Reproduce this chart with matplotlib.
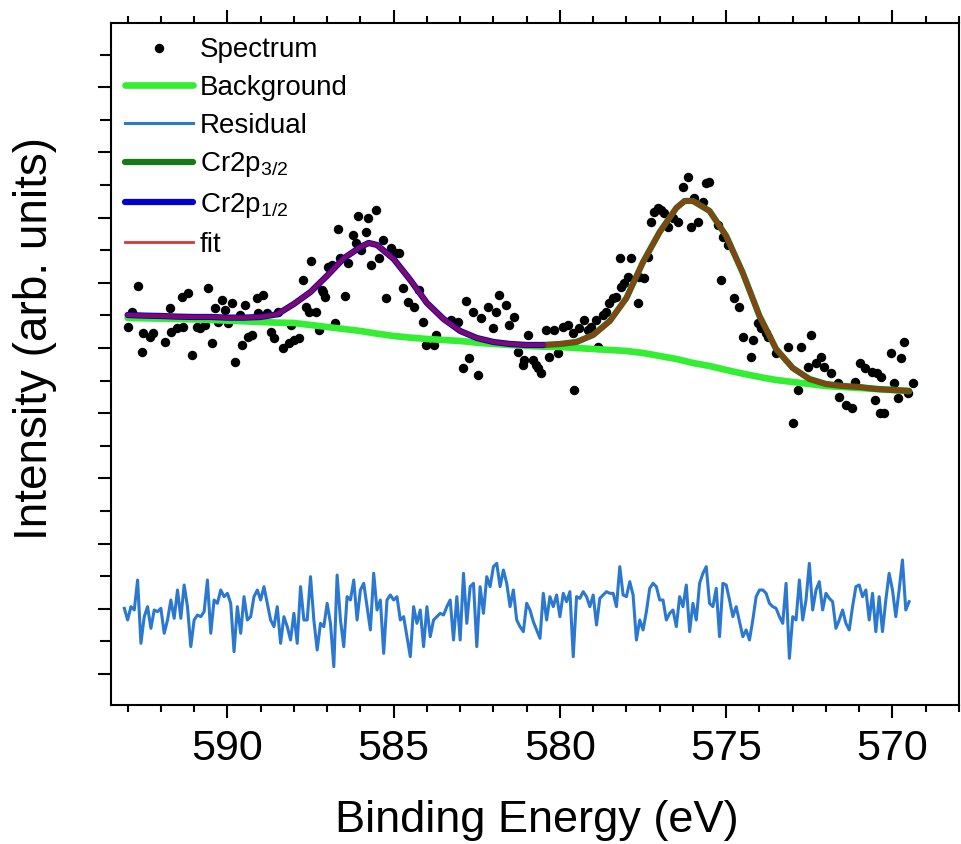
import numpy as np
import matplotlib
matplotlib.use("Agg")
import matplotlib.pyplot as plt
from matplotlib.ticker import MultipleLocator

plt.rcParams['font.family'] = ['Liberation Sans', 'DejaVu Sans']
plt.rcParams['mathtext.fontset'] = 'custom'
plt.rcParams['mathtext.rm'] = 'Liberation Sans'
plt.rcParams['mathtext.default'] = 'regular'

# measured points (binding energy in eV, intensity in arb. units)
spectrum_energy = [
    592.98, 592.86, 592.68, 592.56, 592.53, 592.32, 592.23, 591.87, 591.72, 591.70,
    591.51, 591.36, 591.33, 591.17, 591.05, 590.90, 590.81, 590.66, 590.57, 590.45,
    590.36, 590.27, 590.15, 590.06, 589.97, 589.85, 589.76, 589.61, 589.55, 589.46,
    589.37, 589.25, 589.10, 589.07, 588.92, 588.80, 588.70, 588.61, 588.49, 588.34,
    588.16, 588.10, 588.01, 587.86, 587.74, 587.65, 587.56, 587.50, 587.35, 587.26,
    587.14, 587.11, 587.05, 586.96, 586.84, 586.75, 586.66, 586.60, 586.45, 586.36,
    586.23, 586.14, 586.08, 585.99, 585.84, 585.78, 585.69, 585.54, 585.45, 585.33,
    585.24, 585.09, 584.94, 584.85, 584.73, 584.58, 584.40, 584.25, 584.13, 584.04,
    583.80, 583.73, 583.28, 583.07, 582.92, 582.83, 582.74, 582.62, 582.47, 582.38,
    582.17, 582.02, 581.93, 581.84, 581.63, 581.54, 581.39, 581.27, 581.11, 581.08,
    580.96, 580.81, 580.72, 580.66, 580.57, 580.42, 580.33, 580.18, 580.06, 579.91,
    579.76, 579.61, 579.58, 579.43, 579.28, 579.16, 579.07, 578.92, 578.86, 578.70,
    578.61, 578.52, 578.40, 578.31, 578.19, 578.16, 578.07, 577.95, 577.86, 577.65,
    577.62, 577.47, 577.35, 577.26, 577.17, 577.05, 576.96, 576.87, 576.75, 576.60,
    576.45, 576.30, 576.14, 576.05, 575.96, 575.84, 575.69, 575.60, 575.51, 575.24,
    575.15, 575.09, 574.94, 574.76, 574.61, 574.49, 574.25, 574.19, 574.04, 573.95,
    573.80, 573.73, 573.49, 573.13, 572.98, 572.83, 572.74, 572.53, 572.44, 572.29,
    572.14, 572.05, 571.84, 571.63, 571.60, 571.39, 571.23, 571.14, 570.99, 570.84,
    570.63, 570.54, 570.48, 570.39, 570.33, 570.24, 570.03, 569.94, 569.82, 569.73,
    569.64, 569.52, 569.37,
]
spectrum_counts = [
    1134, 1179, 1257, 1059, 1116, 1104, 1116, 1089, 1191, 1119,
    1131, 1224, 1134, 1236, 1050, 1134, 1131, 1140, 1251, 1086,
    1191, 1149, 1215, 1185, 1146, 1206, 1029, 1170, 1080, 1200,
    1104, 1110, 1221, 1176, 1230, 1176, 1119, 1101, 1179, 1071,
    1086, 1140, 1095, 1101, 1275, 1194, 1179, 1332, 1179, 1125,
    1245, 1239, 1224, 1314, 1320, 1146, 1428, 1341, 1227, 1326,
    1410, 1386, 1467, 1365, 1419, 1461, 1320, 1485, 1341, 1395,
    1221, 1371, 1356, 1356, 1251, 1209, 1194, 1245, 1149, 1080,
    1080, 1110, 1155, 1149, 1011, 1212, 1041, 1179, 990, 1161,
    1194, 1131, 1179, 1230, 1200, 1140, 1164, 1059, 1020, 1035,
    1110, 1035, 1020, 1011, 996, 1125, 1044, 1125, 1056, 1134,
    1140, 1116, 945, 1131, 1155, 1125, 1134, 1155, 1074, 1170,
    1179, 1206, 1221, 1224, 1341, 1254, 1266, 1284, 1341, 1206,
    1284, 1281, 1344, 1449, 1479, 1491, 1485, 1476, 1434, 1461,
    1449, 1554, 1584, 1434, 1521, 1449, 1509, 1566, 1569, 1440,
    1275, 1404, 1380, 1221, 1194, 1104, 1044, 1095, 1146, 1131,
    1116, 1104, 1056, 1074, 846, 945, 1074, 1014, 1110, 1026,
    1044, 1014, 996, 966, 924, 900, 891, 969, 1026, 1011,
    999, 915, 996, 876, 984, 876, 1056, 966, 921, 1041,
    1089, 936, 966,
]

# fitted envelope and Shirley background
fit_energy = [
    593.0, 592.5, 592.0, 591.5, 591.0, 590.5, 590.0, 589.5, 589.0, 588.5,
    588.0, 587.5, 587.0, 586.5, 586.0, 585.75, 585.5, 585.0, 584.5, 584.0,
    583.5, 583.0, 582.5, 582.0, 581.5, 581.0, 580.5, 580.0, 579.5, 579.0,
    578.5, 578.0, 577.5, 577.0, 576.5, 576.25, 576.0, 575.5, 575.0, 574.5,
    574.0, 573.5, 573.0, 572.5, 572.0, 571.5, 571.0, 570.5, 570.0, 569.5,
]
fit_counts = [
    1170, 1168, 1167, 1165, 1164, 1164, 1162, 1162, 1164, 1172,
    1203, 1239, 1288, 1340, 1374, 1386, 1380, 1338, 1275, 1206,
    1158, 1122, 1101, 1089, 1083, 1080, 1080, 1083, 1089, 1110,
    1152, 1221, 1329, 1419, 1491, 1512, 1512, 1482, 1407, 1296,
    1167, 1068, 1011, 978, 963, 957, 954, 948, 945, 942,
]
background_counts = [
    1161, 1160, 1159, 1158, 1157, 1155, 1153, 1151, 1149, 1147,
    1146, 1140, 1134, 1128, 1122, 1118, 1114, 1107, 1102, 1098,
    1095, 1092, 1087, 1083, 1080, 1077, 1075, 1074, 1071, 1068,
    1065, 1062, 1056, 1047, 1038, 1032, 1026, 1017, 1005, 994,
    984, 975, 969, 963, 957, 954, 951, 948, 945, 942,
]
split_energy = 580.5  # where the 2p1/2 and 2p3/2 component curves meet

# residual (offset), one value per 0.1 eV from 593.1 eV
residual_start = 593.1
residual_step = 0.1
residual_counts = [
    290, 255, 295, 285, 375, 185, 265, 295, 230, 285,
    280, 290, 215, 255, 315, 260, 345, 260, 360, 295,
    175, 255, 270, 265, 280, 375, 215, 315, 305, 345,
    325, 335, 305, 160, 295, 215, 325, 255, 265, 325,
    345, 315, 355, 305, 255, 235, 295, 185, 265, 235,
    195, 275, 185, 355, 255, 255, 385, 255, 165, 245,
    235, 305, 245, 115, 390, 255, 175, 325, 315, 375,
    255, 345, 365, 295, 225, 395, 285, 315, 155, 315,
    330, 315, 325, 255, 265, 205, 145, 295, 245, 285,
    175, 295, 205, 255, 265, 275, 270, 295, 315, 195,
    325, 195, 395, 245, 355, 365, 175, 355, 275, 385,
    355, 415, 425, 355, 405, 365, 295, 345, 255,
    235, 220, 305, 285, 250, 225, 200, 335, 255, 325,
    295, 330, 265, 335, 310, 340, 145, 325, 320, 340,
    325, 295, 330, 240, 320, 330, 340, 335, 335, 295,
    415, 330, 325, 370, 330, 195, 255, 225, 280, 350,
    365, 355, 315, 315, 255, 275, 285, 235, 325, 295,
    360, 220, 305, 255, 365, 395, 415, 305, 295, 350,
    205, 365, 360, 315, 265, 295, 250, 205, 225, 195,
    255, 325, 345, 345, 335, 305, 295, 290, 265, 245,
    365, 140, 265, 255, 375, 255, 315, 425, 285, 345,
    370, 285, 335, 320, 310, 230, 255, 285, 245, 225,
    295, 355, 360, 325, 345, 255, 335, 220, 325, 220,
    315, 395, 345, 265, 345, 435, 285, 310,
]

fit_e = np.array(fit_energy)
fit_c = np.array(fit_counts)
res_e = residual_start - residual_step * np.arange(len(residual_counts))
p12 = fit_e >= split_energy
p32 = fit_e <= split_energy

fig = plt.figure(figsize=(9.61, 8.44), dpi=100)
ax = fig.add_axes([0.1155, 0.1647, 0.8824, 0.8081])

h_spec, = ax.plot(spectrum_energy, spectrum_counts, 'o', color='black', ms=6.8,
                  mec='none', zorder=1, label='Spectrum')
h_bg, = ax.plot(fit_energy, background_counts, color='#33ee33', lw=4.8,
                solid_capstyle='round', zorder=2, label='Background')
h_res, = ax.plot(res_e, residual_counts, color='#2b78d0', lw=2.2, zorder=2,
                 label='Residual')
h_32, = ax.plot(fit_e[p32], fit_c[p32], color='#167a16', lw=4.5,
                solid_capstyle='round', zorder=3, label='Cr2p$_{3/2}$')
h_12, = ax.plot(fit_e[p12], fit_c[p12], color='#0000d0', lw=4.5,
                solid_capstyle='round', zorder=3, label='Cr2p$_{1/2}$')
ax.plot(fit_e, fit_c, color='#ee1111', lw=3.2, alpha=0.55, zorder=4)
h_fit, = ax.plot([], [], color='#dd3333', lw=2, label='fit')

ax.legend(handles=[h_spec, h_bg, h_res, h_32, h_12, h_fit], loc='upper left',
          bbox_to_anchor=(0.016, 0.979), frameon=False, fontsize=20,
          borderpad=0, borderaxespad=0, handlelength=2.45, handletextpad=0.25,
          labelspacing=0.42, markerscale=1.0)

ax.set_xlim(593.5, 568.0)
ax.set_ylim(0, 2046)

ax.xaxis.set_major_locator(MultipleLocator(5))
ax.xaxis.set_minor_locator(MultipleLocator(1))
ax.yaxis.set_major_locator(MultipleLocator(195.6, offset=93))
ax.yaxis.set_minor_locator(MultipleLocator(97.8, offset=93))
ax.tick_params(axis='x', which='both', direction='out', top=True, bottom=True,
               labeltop=False, width=1.5, labelsize=31, pad=8)
ax.tick_params(axis='x', which='major', length=9.5)
ax.tick_params(axis='x', which='minor', length=5)
ax.tick_params(axis='y', which='both', direction='out', left=True, right=False,
               labelleft=False, width=1.5)
ax.tick_params(axis='y', which='major', length=9.5)
ax.tick_params(axis='y', which='minor', length=8)
for sp in ax.spines.values():
    sp.set_linewidth(1.5)

ax.set_xlabel('Binding Energy (eV)', fontsize=32.5)
ax.set_ylabel('Intensity (arb. units)', fontsize=33)
ax.xaxis.set_label_coords(0.502, -0.14)
ax.yaxis.set_label_coords(-0.064, 0.538)

fig.savefig('out.png', dpi=100)
